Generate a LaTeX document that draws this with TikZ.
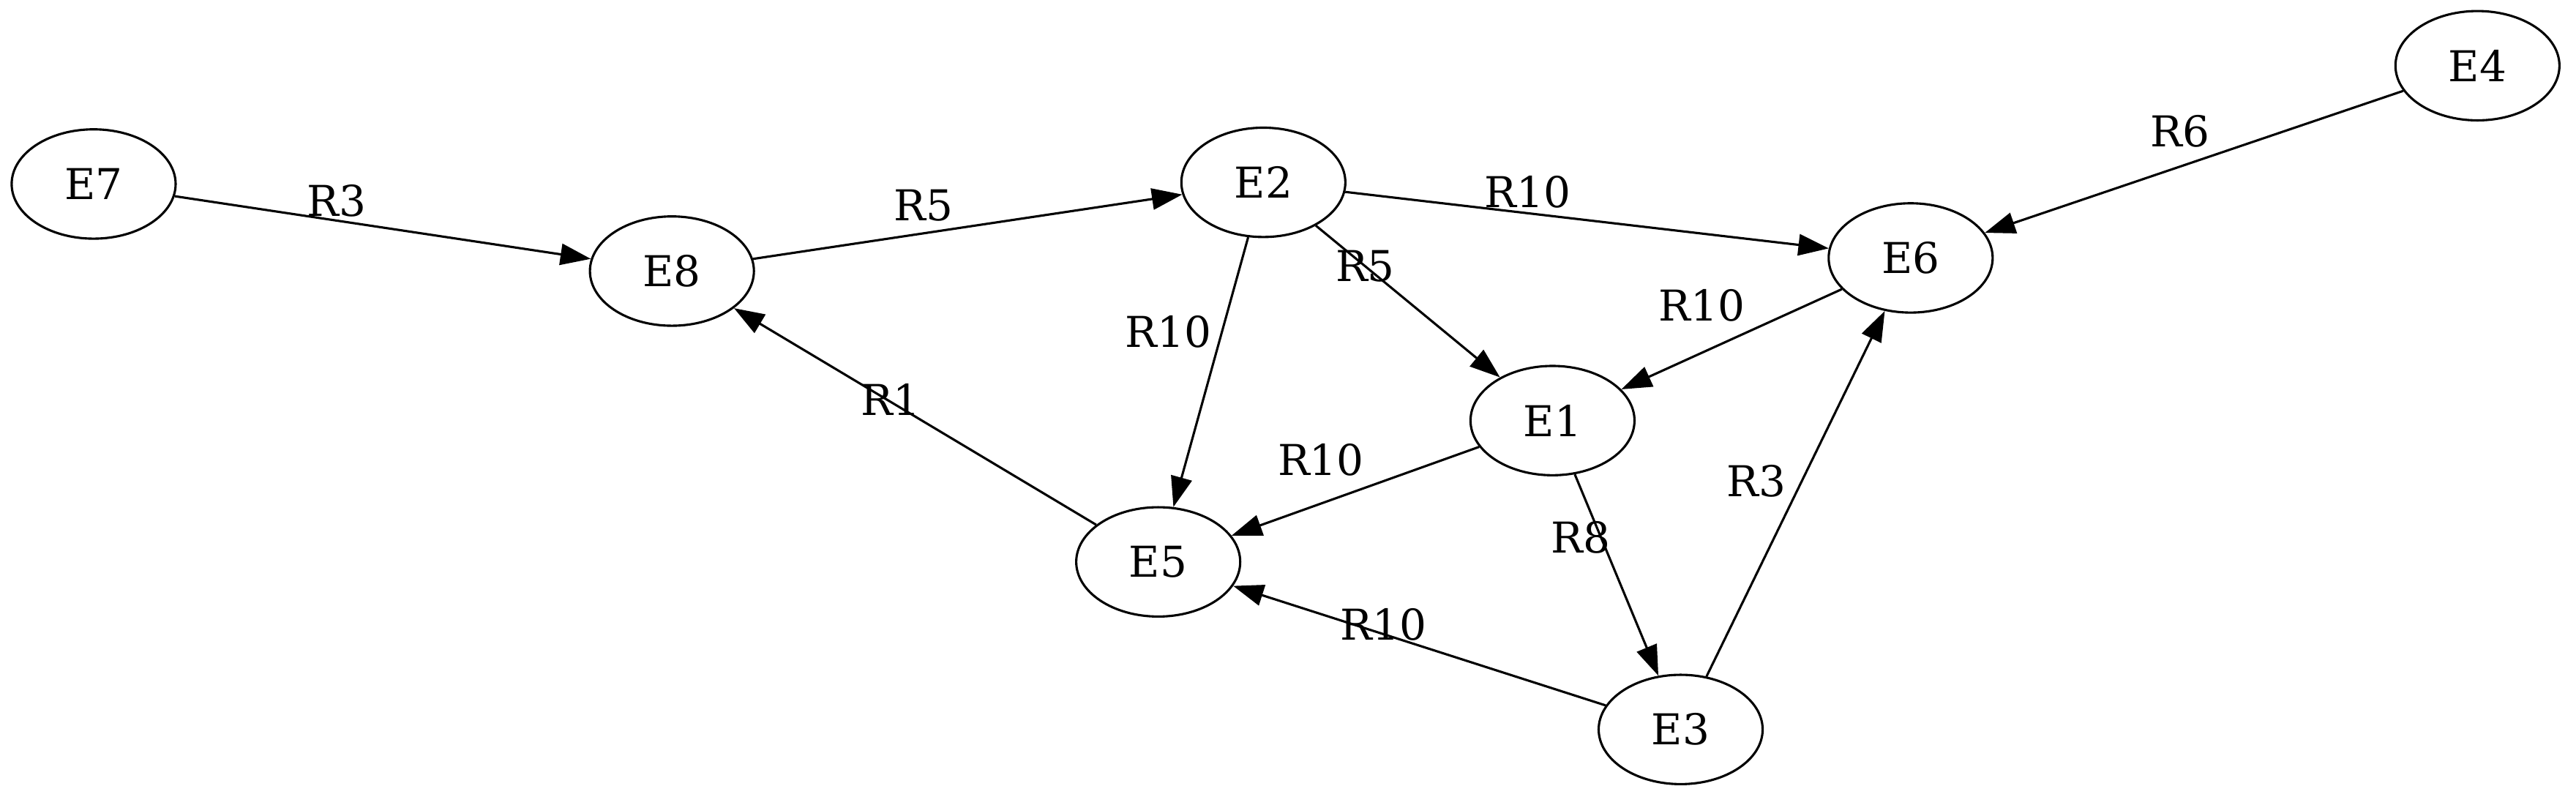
\documentclass[tikz,border=0pt]{standalone}
\usepackage{fontspec}
\setmainfont{DejaVu Serif}
\usetikzlibrary{shapes.geometric,arrows.meta}

\begin{document}
\begin{tikzpicture}[x=0.541pt,y=-0.541pt,
    every node/.style={font=\fontsize{14}{16}\selectfont},
    entity/.style={draw, ellipse, line width=0.75pt, minimum width=54pt, minimum height=36pt, inner sep=0pt},
    rel/.style={draw, line width=0.75pt, -{Triangle[length=10pt,width=7pt]}},
    lbl/.style={inner sep=0pt}]
    %\useasboundingbox fixes the page size
    \useasboundingbox (0,0) rectangle (1568,485);

    % entities
    \node[entity] (E7) at (57,112) {E7};
    \node[entity] (E8) at (409,165) {E8};
    \node[entity] (E2) at (769,111) {E2};
    \node[entity] (E6) at (1163,157) {E6};
    \node[entity] (E4) at (1508,40) {E4};
    \node[entity] (E1) at (945,256) {E1};
    \node[entity] (E5) at (705,342) {E5};
    \node[entity] (E3) at (1023,444) {E3};

    % relations
    \draw[rel] (E7) -- (E8) node[lbl] at (205,122) {R3};
    \draw[rel] (E8) -- (E2) node[lbl] at (562,125) {R5};
    \draw[rel] (E2) -- (E6) node[lbl] at (930,117) {R10};
    \draw[rel] (E4) -- (E6) node[lbl] at (1327,80) {R6};
    \draw[rel] (E2) -- (E1) node[lbl] at (831,162) {R5};
    \draw[rel] (E2) -- (E5) node[lbl] at (711,202) {R10};
    \draw[rel] (E6) -- (E1) node[lbl] at (1036,186) {R10};
    \draw[rel] (E5) -- (E8) node[lbl] at (542,243) {R1};
    \draw[rel] (E1) -- (E5) node[lbl] at (804,280) {R10};
    \draw[rel] (E3) -- (E6) node[lbl] at (1069,293) {R3};
    \draw[rel] (E1) -- (E3) node[lbl] at (962,327) {R8};
    \draw[rel] (E3) -- (E5) node[lbl] at (842,380) {R10};
\end{tikzpicture}
\end{document}
